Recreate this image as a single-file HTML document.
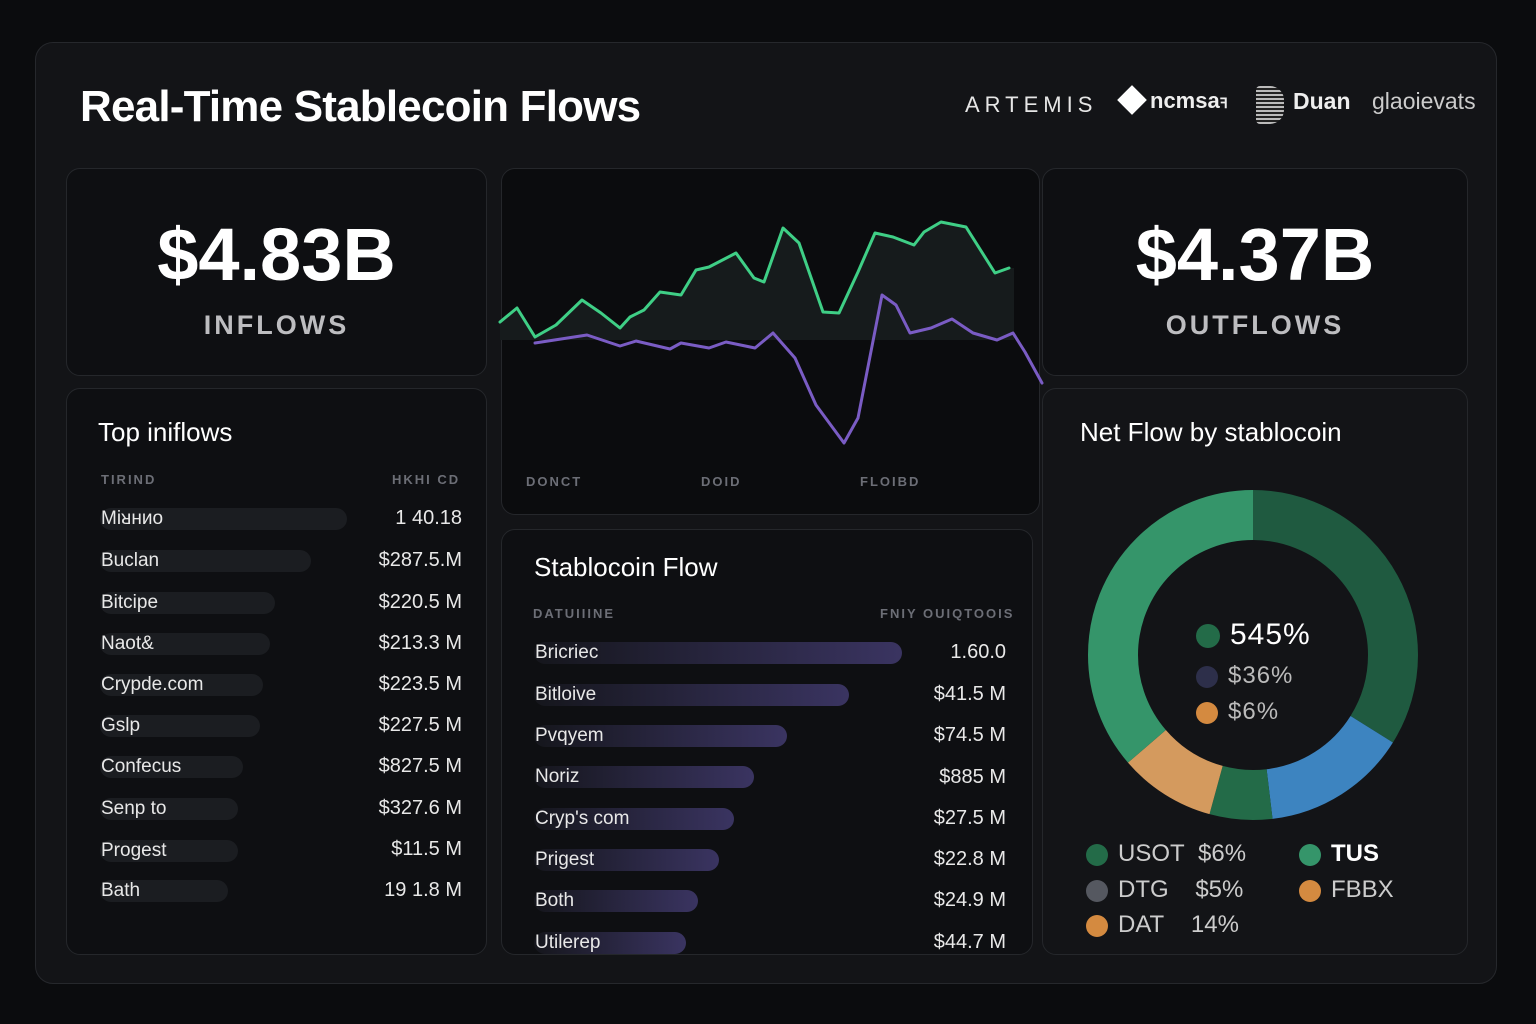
<!DOCTYPE html>
<html><head><meta charset="utf-8"><style>
*{margin:0;padding:0;box-sizing:border-box}
body{width:1536px;height:1024px;background:#0b0c0e;font-family:"Liberation Sans",sans-serif;color:#f2f2f2;position:relative;overflow:hidden}
.abs{position:absolute}
.card{position:absolute;background:#0e0f12;border:1px solid #25272b;border-radius:14px}
.row{position:absolute;font-size:19px;color:#e8e8e8}
.bar{position:absolute;height:22px;border-radius:11px;background:#1b1d21}
.pbar{position:absolute;height:22px;border-radius:11px;background:linear-gradient(90deg,#15161c,#3a3461)}
.hdr{position:absolute;font-size:13px;letter-spacing:2px;color:#6c6e76;font-weight:bold}
.dot{display:inline-block;width:22px;height:22px;border-radius:50%;vertical-align:middle;margin-right:10px}
</style></head><body>
<div class="abs" style="left:35px;top:42px;width:1462px;height:942px;background:#131417;border:1px solid #26282c;border-radius:18px"></div>
<div class="abs" style="left:80px;top:82px;font-size:44px;font-weight:bold;color:#fff;letter-spacing:-0.8px">Real-Time Stablecoin Flows</div>
<div class="abs" style="left:965px;top:92px;font-size:22px;letter-spacing:5px;color:#e6e6e6">ARTEMIS</div>
<div class="abs" style="left:1118px;top:86px;width:28px;height:28px;background:#fff;transform:rotate(45deg) scale(.75)"></div>
<div class="abs" style="left:1150px;top:88px;font-size:22px;font-weight:bold;color:#eee">ncmsa<span style="font-size:14px">ꟻ</span></div>
<div class="abs" style="left:1256px;top:86px;width:28px;height:38px;background:repeating-linear-gradient(0deg,#bbb 0 2px,#222 2px 4px);border-radius:4px 14px 14px 4px"></div>
<div class="abs" style="left:1293px;top:88px;font-size:23px;font-weight:bold;color:#eee">Duan</div>
<div class="abs" style="left:1372px;top:88px;font-size:23px;color:#ccc">glaoievats</div>

<div class="card" style="left:66px;top:168px;width:421px;height:208px"></div>
<div class="abs" style="left:66px;top:212px;width:421px;text-align:center;font-size:74px;font-weight:bold;color:#fff">$4.83B</div>
<div class="abs" style="left:66px;top:310px;width:421px;text-align:center;font-size:27px;font-weight:bold;letter-spacing:3px;color:#bdbdc0">INFLOWS</div>

<div class="card" style="left:1042px;top:168px;width:426px;height:208px"></div>
<div class="abs" style="left:1042px;top:212px;width:426px;text-align:center;font-size:74px;font-weight:bold;color:#fff">$4.37B</div>
<div class="abs" style="left:1042px;top:310px;width:426px;text-align:center;font-size:27px;font-weight:bold;letter-spacing:3px;color:#bdbdc0">OUTFLOWS</div>

<div class="card" style="left:501px;top:168px;width:539px;height:347px;background:#0b0c0e"></div>
<svg class="abs" style="left:0;top:0" width="1536" height="1024">
<path d="M500,322 L517,308 L535,337 L556,325 L582,300 L601,313 L620,328 L630,317 L644,310 L660,292 L681,295 L696,270 L709,267 L736,253 L754,278 L764,282 L783,228 L799,243 L823,312 L839,313 L858,272 L875,233 L893,237 L914,245 L924,232 L941,222 L966,227 L995,273 L1009,268 L1014,268 L1014,340 L500,340Z" fill="#161b1c"/>
<polyline fill="none" stroke="#3fcf86" stroke-width="3" stroke-linejoin="round" stroke-linecap="round" points="500,322 517,308 535,337 556,325 582,300 601,313 620,328 630,317 644,310 660,292 681,295 696,270 709,267 736,253 754,278 764,282 783,228 799,243 823,312 839,313 858,272 875,233 893,237 914,245 924,232 941,222 966,227 995,273 1009,268"/>
<polyline fill="none" stroke="#7a5cc4" stroke-width="3" stroke-linejoin="round" stroke-linecap="round" points="535,343 587,335 620,346 636,341 670,349 681,343 709,348 726,342 755,348 773,333 795,358 816,405 844,443 858,418 882,295 896,305 910,333 931,328 952,319 973,333 997,340 1013,333 1025,352 1042,383"/>
<circle cx="1253" cy="655" r="140" fill="none" stroke="#1f5a40" stroke-width="50" stroke-dasharray="298 900" transform="rotate(-90 1253 655)"/>
<circle cx="1253" cy="655" r="140" fill="none" stroke="#3d84c0" stroke-width="50" stroke-dasharray="0 298 125 900" transform="rotate(-90 1253 655)"/>
<circle cx="1253" cy="655" r="140" fill="none" stroke="#236b48" stroke-width="50" stroke-dasharray="0 423 54 900" transform="rotate(-90 1253 655)"/>
<circle cx="1253" cy="655" r="140" fill="none" stroke="#d49a5e" stroke-width="50" stroke-dasharray="0 477 83 900" transform="rotate(-90 1253 655)"/>
<circle cx="1253" cy="655" r="140" fill="none" stroke="#35956a" stroke-width="50" stroke-dasharray="0 560 320 900" transform="rotate(-90 1253 655)"/>
</svg>
<div class="hdr" style="left:526px;top:474px">DONCT</div>
<div class="hdr" style="left:701px;top:474px">DOID</div>
<div class="hdr" style="left:860px;top:474px">FLOIBD</div>

<div class="card" style="left:66px;top:388px;width:421px;height:567px"></div>
<div class="abs" style="left:98px;top:417px;font-size:26px;color:#fff">Top iniflows</div>
<div class="hdr" style="left:101px;top:472px">TIRIND</div>
<div class="hdr" style="left:392px;top:472px">HKHI CD</div>
<div class="bar" style="left:100px;top:508px;width:247px"></div><div class="row" style="left:101px;top:508px">Miᴚнио</div><div class="row" style="right:1074px;top:507px;font-size:20px">1 40.18</div>
<div class="bar" style="left:100px;top:550px;width:211px"></div><div class="row" style="left:101px;top:550px">Buclan</div><div class="row" style="right:1074px;top:549px;font-size:20px">$287.5.M</div>
<div class="bar" style="left:100px;top:592px;width:175px"></div><div class="row" style="left:101px;top:592px">Bitcipe</div><div class="row" style="right:1074px;top:591px;font-size:20px">$220.5 M</div>
<div class="bar" style="left:100px;top:633px;width:170px"></div><div class="row" style="left:101px;top:633px">Naot&amp;</div><div class="row" style="right:1074px;top:632px;font-size:20px">$213.3 M</div>
<div class="bar" style="left:100px;top:674px;width:163px"></div><div class="row" style="left:101px;top:674px">Crypde.com</div><div class="row" style="right:1074px;top:673px;font-size:20px">$223.5 M</div>
<div class="bar" style="left:100px;top:715px;width:160px"></div><div class="row" style="left:101px;top:715px">Gslp</div><div class="row" style="right:1074px;top:714px;font-size:20px">$227.5 M</div>
<div class="bar" style="left:100px;top:756px;width:143px"></div><div class="row" style="left:101px;top:756px">Confecus</div><div class="row" style="right:1074px;top:755px;font-size:20px">$827.5 M</div>
<div class="bar" style="left:100px;top:798px;width:138px"></div><div class="row" style="left:101px;top:798px">Senp to</div><div class="row" style="right:1074px;top:797px;font-size:20px">$327.6 M</div>
<div class="bar" style="left:100px;top:840px;width:138px"></div><div class="row" style="left:101px;top:840px">Progest</div><div class="row" style="right:1074px;top:838px;font-size:20px">$11.5 M</div>
<div class="bar" style="left:100px;top:880px;width:128px"></div><div class="row" style="left:101px;top:880px">Bath</div><div class="row" style="right:1074px;top:879px;font-size:20px">19 1.8 M</div>

<div class="card" style="left:501px;top:529px;width:532px;height:426px"></div>
<div class="abs" style="left:534px;top:552px;font-size:26px;color:#fff">Stablocoin Flow</div>
<div class="hdr" style="left:533px;top:606px">DATUIIINE</div>
<div class="hdr" style="left:880px;top:606px">FNIY OUIQTOOIS</div>
<div class="pbar" style="left:534px;top:642px;width:368px"></div><div class="row" style="left:535px;top:642px">Bricriec</div><div class="row" style="right:530px;top:641px;font-size:20px">1.60.0</div>
<div class="pbar" style="left:534px;top:684px;width:315px"></div><div class="row" style="left:535px;top:684px">Bitloive</div><div class="row" style="right:530px;top:683px;font-size:20px">$41.5 M</div>
<div class="pbar" style="left:534px;top:725px;width:253px"></div><div class="row" style="left:535px;top:725px">Pvqyem</div><div class="row" style="right:530px;top:724px;font-size:20px">$74.5 M</div>
<div class="pbar" style="left:534px;top:766px;width:220px"></div><div class="row" style="left:535px;top:766px">Noriz</div><div class="row" style="right:530px;top:766px;font-size:20px">$885 M</div>
<div class="pbar" style="left:534px;top:808px;width:200px"></div><div class="row" style="left:535px;top:808px">Cryp's com</div><div class="row" style="right:530px;top:807px;font-size:20px">$27.5 M</div>
<div class="pbar" style="left:534px;top:849px;width:185px"></div><div class="row" style="left:535px;top:849px">Prigest</div><div class="row" style="right:530px;top:848px;font-size:20px">$22.8 M</div>
<div class="pbar" style="left:534px;top:890px;width:164px"></div><div class="row" style="left:535px;top:890px">Both</div><div class="row" style="right:530px;top:889px;font-size:20px">$24.9 M</div>
<div class="pbar" style="left:534px;top:932px;width:152px"></div><div class="row" style="left:535px;top:932px">Utilerep</div><div class="row" style="right:530px;top:931px;font-size:20px">$44.7 M</div>

<div class="card" style="left:1042px;top:388px;width:426px;height:567px;background:transparent"></div>
<div class="abs" style="left:1080px;top:417px;font-size:26px;color:#fff">Net Flow by stablocoin</div>
<div class="abs" style="left:1196px;top:618px;font-size:30px;color:#fff;letter-spacing:1px"><span class="dot" style="background:#236b48;width:24px;height:24px"></span>545%</div>
<div class="abs" style="left:1196px;top:662px;font-size:24px;color:#bbb;letter-spacing:1px"><span class="dot" style="background:#2d2f4a"></span>$36%</div>
<div class="abs" style="left:1196px;top:698px;font-size:24px;color:#bbb;letter-spacing:1px"><span class="dot" style="background:#d48a40"></span>$6%</div>
<div class="abs" style="left:1086px;top:840px;font-size:24px;color:#ccc"><span class="dot" style="background:#236b48"></span>USOT&nbsp; $6%</div>
<div class="abs" style="left:1086px;top:876px;font-size:24px;color:#ccc"><span class="dot" style="background:#555860"></span>DTG&nbsp;&nbsp;&nbsp; $5%</div>
<div class="abs" style="left:1086px;top:911px;font-size:24px;color:#ccc"><span class="dot" style="background:#d48a40"></span>DAT&nbsp;&nbsp;&nbsp; 14%</div>
<div class="abs" style="left:1299px;top:840px;font-size:24px;color:#fff;font-weight:bold"><span class="dot" style="background:#35956a"></span>TUS</div>
<div class="abs" style="left:1299px;top:876px;font-size:24px;color:#ccc"><span class="dot" style="background:#d48a40"></span>FBBX</div>
</body></html>
